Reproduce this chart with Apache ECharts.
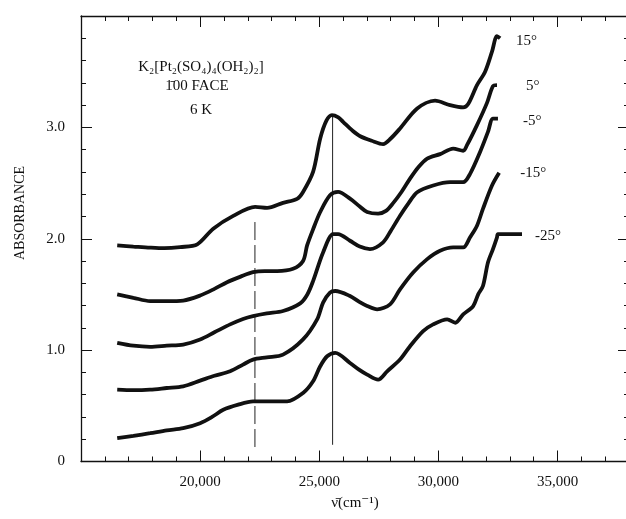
<!DOCTYPE html>
<html>
<head>
<meta charset="utf-8">
<script src="https://cdn.jsdelivr.net/npm/echarts@6/dist/echarts.min.js"></script>
<style>
html,body{margin:0;padding:0;background:#fff;overflow:hidden;width:626px;height:519px;}
#c{width:640px;height:519px;}
</style>
</head>
<body>
<div id="c"></div>
<script>
// ---- data ----
const seriesNames = ['15°', '5°', '-5°', '-15°', '-25°'];

const x15 = [16520,17200,17900,18500,19160,19880,20550,21390,22310,22810,23480,24070,24320,24740,25040,25300,25530,25800,26000,26400,26720,27200,27680,28000,28390,29110,29860,30490,31040,31250,31620,31960,32250,32460,32590];
const y15 = [1.94,1.93,1.92,1.915,1.925,1.95,2.09,2.205,2.286,2.277,2.322,2.358,2.42,2.60,2.90,3.06,3.11,3.09,3.05,2.97,2.92,2.88,2.85,2.90,2.99,3.17,3.24,3.20,3.18,3.21,3.38,3.50,3.68,3.82,3.80];

const x5 = [16520,17200,17900,18600,19290,20000,20600,21130,21700,22220,22700,23230,23900,24320,24490,24750,25040,25450,25790,26290,26700,27010,27470,27800,28100,28450,28810,29150,29530,30070,30620,31040,31200,31620,32040,32290,32460];
const y5 = [1.50,1.47,1.44,1.44,1.445,1.49,1.55,1.61,1.66,1.70,1.71,1.71,1.73,1.80,1.94,2.09,2.24,2.39,2.42,2.36,2.29,2.24,2.225,2.25,2.32,2.42,2.54,2.64,2.72,2.76,2.81,2.79,2.84,3.02,3.22,3.37,3.38];

const xm5 = [16520,17200,17900,18600,19290,20000,20600,21260,21800,22220,22800,23480,24200,24500,24740,25160,25580,25790,26290,26700,27130,27680,28000,28390,28750,29110,29780,30490,31040,31330,31750,32080,32290,32500];
const ym5 = [1.066,1.04,1.03,1.04,1.05,1.096,1.16,1.231,1.28,1.306,1.33,1.351,1.42,1.50,1.62,1.877,2.042,2.042,1.982,1.93,1.907,1.968,2.07,2.207,2.32,2.418,2.478,2.508,2.508,2.583,2.779,2.959,3.079,3.079];

const xm15 = [16520,17200,17900,18600,19290,20000,20600,21260,21800,22220,22800,23480,24320,24910,25160,25450,25670,26290,26700,27010,27430,27970,28390,28940,29530,30070,30620,31040,31330,31620,31870,32250,32550];
const ym15 = [0.645,0.64,0.645,0.66,0.675,0.726,0.77,0.81,0.87,0.915,0.935,0.96,1.096,1.276,1.427,1.517,1.531,1.486,1.43,1.396,1.366,1.411,1.546,1.697,1.817,1.892,1.922,1.922,2.013,2.117,2.268,2.478,2.592];

const xm25 = [16520,17200,17900,18600,19290,20000,20500,20970,21600,22220,22900,23650,24320,24740,25040,25330,25670,26290,26700,27010,27470,27850,28390,28810,29360,29780,30370,30710,31040,31460,31670,31870,32080,32290,32460,32500,33000,33510];
const ym25 = [0.209,0.23,0.254,0.28,0.299,0.344,0.40,0.464,0.51,0.539,0.54,0.539,0.615,0.72,0.855,0.945,0.976,0.885,0.82,0.78,0.735,0.81,0.915,1.035,1.17,1.231,1.276,1.246,1.321,1.396,1.501,1.576,1.787,1.907,2.013,2.042,2.042,2.042];

// reference (vertical) lines: wavenumber, from, to
const refX = [22300, 25560];
const refFrom = [0.13, 0.15];
const refTo = [2.19, 3.10];

const xTicks = [20000, 25000, 30000, 35000];
const yTickLabels = {0: '0', 1: '1.0', 2: '2.0', 3: '3.0'};

// ---- build ----
const xs = [x15, x5, xm5, xm15, xm25];
const ys = [y15, y5, ym5, ym15, ym25];
const labelOffsets = [[16, 3], [29, 1], [25, 2], [21, 0], [13, 2]];

const FONT = '"Liberation Serif", "DejaVu Serif", serif';
const BLACK = '#111';

const zip = (a, b) => a.map((v, i) => [v, b[i]]);

const curveSeries = seriesNames.map((name, i) => ({
  name: name,
  type: 'line',
  data: zip(xs[i], ys[i]),
  showSymbol: false,
  symbol: 'none',
  smooth: 0.3,
  lineStyle: { color: BLACK, width: 3.8 },
  z: 3,
  endLabel: {
    show: true,
    formatter: name,
    color: BLACK,
    fontFamily: FONT,
    fontSize: 15,
    distance: 0,
    offset: labelOffsets[i]
  },
  animation: false
}));

const refSeries = refX.map((x, i) => ({
  type: 'line',
  data: [[x, refFrom[i]], [x, refTo[i]]],
  symbol: 'none',
  lineStyle: { color: '#222', width: 1, type: i === 0 ? [18, 5] : 'solid' },
  z: 2,
  animation: false
}));

const chart = echarts.init(document.getElementById('c'), null, { renderer: 'canvas' });

function mkAxis(extra) {
  return Object.assign({
    axisLine: { show: true, onZero: false, lineStyle: { color: BLACK, width: 1.3 } },
    splitLine: { show: false },
    axisTick: { show: true, inside: true, length: 11, lineStyle: { color: BLACK } },
    minorTick: { show: true, splitNumber: 5, length: 5, lineStyle: { color: BLACK } }
  }, extra);
}

chart.setOption({
  backgroundColor: '#fff',
  animation: false,
  grid: { left: 81, top: 16, right: 11, bottom: 57.5, containLabel: false },
  xAxis: [mkAxis({
    type: 'value', min: 15000, max: 38000, interval: 5000,
    position: 'bottom',
    axisLabel: {
      color: BLACK, fontFamily: FONT, fontSize: 15, margin: 13,
      formatter: v => xTicks.indexOf(v) >= 0 ? v.toLocaleString('en-US') : ''
    },
    name: 'ν̄(cm⁻¹)', nameLocation: 'middle', nameGap: 34,
    nameTextStyle: { color: BLACK, fontFamily: FONT, fontSize: 15 }
  }), mkAxis({
    type: 'value', min: 15000, max: 38000, interval: 5000,
    position: 'top',
    axisLabel: { show: false }
  })],
  yAxis: [mkAxis({
    type: 'value', min: 0, max: 4, interval: 1,
    position: 'left',
    axisLabel: {
      color: BLACK, fontFamily: FONT, fontSize: 15, margin: 16,
      formatter: v => yTickLabels[v] !== undefined ? yTickLabels[v] : ''
    }
  }), mkAxis({
    type: 'value', min: 0, max: 4, interval: 1,
    position: 'right',
    axisLabel: { show: false }
  })],
  graphic: [
    {
      type: 'text', x: 20, y: 213, rotation: Math.PI / 2,
      style: { text: 'ABSORBANCE', fill: BLACK, font: '14px ' + FONT, align: 'center', verticalAlign: 'middle' }
    },
    {
      type: 'text', x: 201, y: 67,
      style: { text: 'K₂[Pt₂(SO₄)₄(OH₂)₂]', fill: BLACK, font: '15px ' + FONT, align: 'center', verticalAlign: 'middle' }
    },
    {
      type: 'text', x: 197, y: 86,
      style: { text: '1̄00 FACE', fill: BLACK, font: '15px ' + FONT, align: 'center', verticalAlign: 'middle' }
    },
    {
      type: 'text', x: 201, y: 110,
      style: { text: '6 K', fill: BLACK, font: '15px ' + FONT, align: 'center', verticalAlign: 'middle' }
    }
  ],
  series: [...refSeries, ...curveSeries]
});
</script>
</body>
</html>
